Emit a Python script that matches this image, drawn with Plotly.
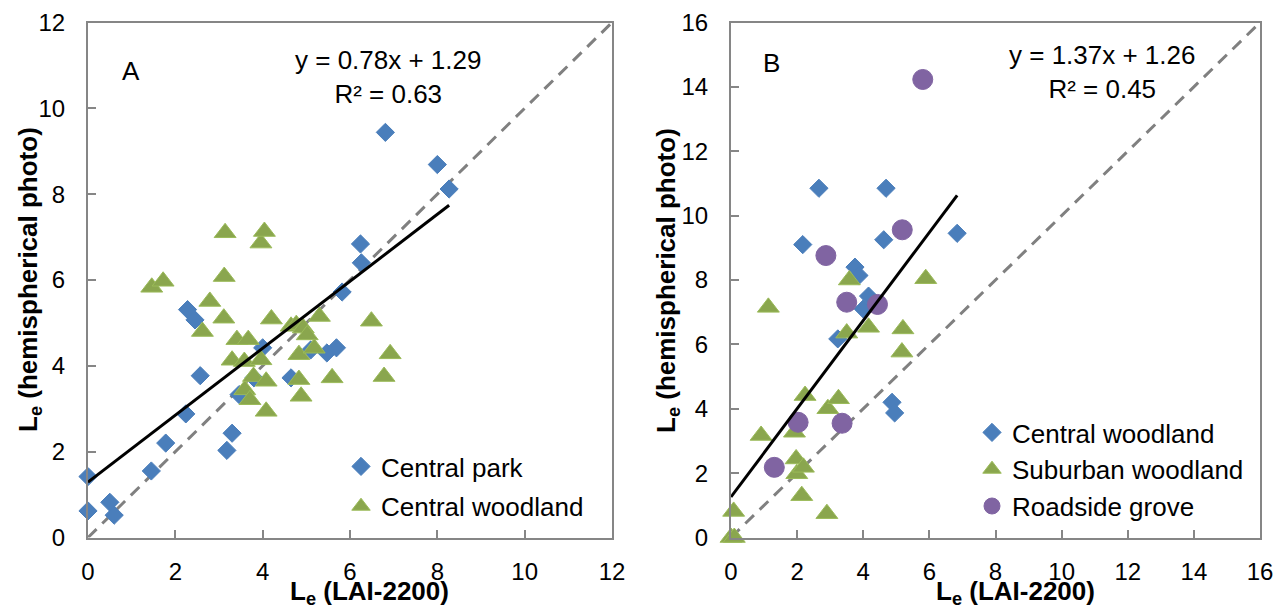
import plotly.graph_objects as go

# ---------------- data ----------------
# Panel A
park_x = [0.0, 0.0, 0.5, 0.6, 1.45, 1.78, 2.24, 2.28, 2.45, 2.57, 3.18, 3.3, 3.46, 3.8, 4.0,
          4.65, 5.1, 5.47, 5.69, 5.82, 6.24, 6.26, 6.81, 8.0, 8.27]
park_y = [1.42, 0.62, 0.82, 0.52, 1.55, 2.2, 2.88, 5.31, 5.07, 3.77, 2.03, 2.43, 3.33, 3.72, 4.42,
          3.72, 4.37, 4.3, 4.42, 5.72, 6.84, 6.4, 9.44, 8.69, 8.12]
woodA_x = [1.46, 1.72, 2.62, 2.79, 3.11, 3.12, 3.14, 3.3, 3.41, 3.58, 3.59, 3.67, 3.71, 3.79, 3.96,
           3.96, 4.04, 4.08, 4.08, 4.2, 4.65, 4.77, 4.83, 4.83, 4.88, 4.93, 5.02, 5.18, 5.3, 5.59,
           6.49, 6.78, 6.92]
woodA_y = [5.83, 5.97, 4.8, 5.5, 5.11, 6.08, 7.1, 4.13, 4.61, 4.1, 3.44, 4.61, 3.21, 3.75, 4.14,
           6.86, 7.13, 3.64, 2.94, 5.09, 4.92, 4.96, 4.26, 3.68, 3.29, 4.88, 4.72, 4.41, 5.15, 3.72,
           5.04, 3.75, 4.28]
fitA = {"slope": 0.78, "intercept": 1.29, "r2": 0.63}

# Panel B
cwB_x = [2.17, 2.66, 3.23, 3.75, 3.87, 4.0, 4.16, 4.62, 4.69, 4.87, 4.95, 6.84]
cwB_y = [9.1, 10.85, 6.17, 8.4, 8.14, 7.1, 7.5, 9.25, 10.85, 4.2, 3.87, 9.45]
sub_x = [0.0, 0.1, 0.08, 0.91, 1.13, 1.92, 1.97, 1.99, 2.14, 2.19, 2.24, 2.9, 2.93, 3.25, 3.5,
         3.58, 4.16, 5.17, 5.2, 5.89]
sub_y = [0.0, 0.0, 0.81, 3.17, 7.15, 3.27, 2.44, 1.98, 1.3, 2.18, 4.41, 0.74, 4.0, 4.31, 6.35,
         8.0, 6.53, 5.76, 6.48, 8.04]
road_x = [1.31, 2.03, 2.87, 3.36, 3.5, 4.43, 5.18, 5.8]
road_y = [2.18, 3.58, 8.76, 3.55, 7.31, 7.24, 9.56, 14.23]
fitB = {"slope": 1.37, "intercept": 1.26, "r2": 0.45}

rangeA = [0, 12]
rangeB = [0, 16]

# ---------------- styling ----------------
W, H = 1287, 609
def px(x): return x / W
def py(y): return 1 - y / H

BLUE = "#4A7EBB"
GREEN = "#8AA64E"
GREEN_EDGE = "#9BBB59"
PURPLE = "#8064A2"
AXIS = "#868686"
FONT = "Liberation Sans, Arial, sans-serif"

fig = go.Figure()

def diag(rng, xa, ya):
    fig.add_trace(go.Scatter(x=rng, y=rng, mode="lines", xaxis=xa, yaxis=ya,
                             line=dict(color="#808080", width=3, dash="12px,8px"),
                             showlegend=False, hoverinfo="skip"))

def fitline(xs, fit, xa, ya):
    x0, x1 = min(xs), max(xs)
    fig.add_trace(go.Scatter(x=[x0, x1], y=[fit["slope"] * x0 + fit["intercept"],
                                            fit["slope"] * x1 + fit["intercept"]],
                             mode="lines", xaxis=xa, yaxis=ya,
                             line=dict(color="black", width=3),
                             showlegend=False, hoverinfo="skip"))

# Panel A
diag(rangeA, "x", "y")
fig.add_trace(go.Scatter(x=park_x, y=park_y, mode="markers", name="Central park",
                         xaxis="x", yaxis="y", legend="legend", legendgroup="a1",
                         cliponaxis=False,
                         marker=dict(symbol="diamond", size=14, color=BLUE,
                                     line=dict(color=BLUE, width=1))))
fig.add_trace(go.Scatter(x=woodA_x, y=woodA_y, mode="markers", name="Central woodland",
                         xaxis="x", yaxis="y", legend="legend", legendgroup="a2",
                         cliponaxis=False,
                         marker=dict(symbol="triangle-up", size=19, color=GREEN,
                                     line=dict(color=GREEN_EDGE, width=1))))
fitline(park_x, fitA, "x", "y")

# Panel B
diag(rangeB, "x2", "y2")
fig.add_trace(go.Scatter(x=cwB_x, y=cwB_y, mode="markers", name="Central woodland",
                         xaxis="x2", yaxis="y2", legend="legend2", legendgroup="b1",
                         cliponaxis=False,
                         marker=dict(symbol="diamond", size=14, color=BLUE,
                                     line=dict(color=BLUE, width=1))))
fig.add_trace(go.Scatter(x=sub_x, y=sub_y, mode="markers", name="Suburban woodland",
                         xaxis="x2", yaxis="y2", legend="legend2", legendgroup="b2",
                         cliponaxis=False,
                         marker=dict(symbol="triangle-up", size=19, color=GREEN,
                                     line=dict(color=GREEN_EDGE, width=1))))
fig.add_trace(go.Scatter(x=road_x, y=road_y, mode="markers", name="Roadside grove",
                         xaxis="x2", yaxis="y2", legend="legend2", legendgroup="b3",
                         cliponaxis=False,
                         marker=dict(symbol="circle", size=20, color=PURPLE,
                                     line=dict(color=PURPLE, width=1))))
fitline(cwB_x + sub_x + road_x, fitB, "x2", "y2")

axis_common = dict(showline=True, linecolor=AXIS, linewidth=2, mirror=True,
                   ticks="inside", ticklen=8, tickcolor=AXIS, tickwidth=1.5,
                   showgrid=False, zeroline=False, automargin=False,
                   tickfont=dict(size=24, family=FONT, color="black"))
xaxis_common = dict(axis_common, ticklabelstandoff=12)
yaxis_common = dict(axis_common, ticklabelstandoff=16)
ydom = [py(537.5), py(22.5)]

fig.update_layout(
    width=W, height=H, margin=dict(l=0, r=0, t=0, b=0, autoexpand=False),
    plot_bgcolor="white", paper_bgcolor="white",
    font=dict(family=FONT, size=24, color="black"),
    xaxis=dict(domain=[px(88), px(612)], range=rangeA, dtick=2, anchor="y", **xaxis_common),
    yaxis=dict(domain=ydom, range=rangeA, dtick=2, anchor="x", **yaxis_common),
    xaxis2=dict(domain=[px(731), px(1260)], range=rangeB, dtick=2, anchor="y2", **xaxis_common),
    yaxis2=dict(domain=ydom, range=rangeB, dtick=2, anchor="x2", **yaxis_common),
    legend=dict(x=px(341), y=py(443), xanchor="left", yanchor="top",
                bgcolor="rgba(0,0,0,0)", font=dict(size=26, family=FONT),
                tracegroupgap=3, itemsizing="trace"),
    legend2=dict(x=px(972), y=py(409), xanchor="left", yanchor="top",
                 bgcolor="rgba(0,0,0,0)", font=dict(size=26, family=FONT),
                 tracegroupgap=0, itemsizing="trace"),
    hovermode=False,
)

def eq_text(fit):
    return "y = {:.2f}x + {:.2f}<br>R² = {:.2f}".format(fit["slope"], fit["intercept"], fit["r2"])

annos = [
    dict(text="A", x=px(131), y=py(71), size=26),
    dict(text="B", x=px(771), y=py(63), size=26),
    dict(text=eq_text(fitA), x=px(388), y=py(77), size=26),
    dict(text=eq_text(fitB), x=px(1102), y=py(72), size=26),
    dict(text="<b>L<sub>e</sub> (LAI-2200)</b>", x=px(369), y=py(592), size=26),
    dict(text="<b>L<sub>e</sub> (LAI-2200)</b>", x=px(1015), y=py(592), size=26),
    dict(text="<b>L<sub>e</sub> (hemispherical photo)</b>", x=px(29), y=py(280), size=26, angle=-90),
    dict(text="<b>L<sub>e</sub> (hemispherical photo)</b>", x=px(667), y=py(280), size=26, angle=-90),
]
for a in annos:
    fig.add_annotation(text=a["text"], x=a["x"], y=a["y"], xref="paper", yref="paper",
                       xanchor="center", yanchor="middle", showarrow=False,
                       textangle=a.get("angle", 0),
                       font=dict(size=a["size"], family=FONT, color="black"))

fig.write_html("out.html", config={"displayModeBar": False},
               post_script="document.body.style.margin='0';")
